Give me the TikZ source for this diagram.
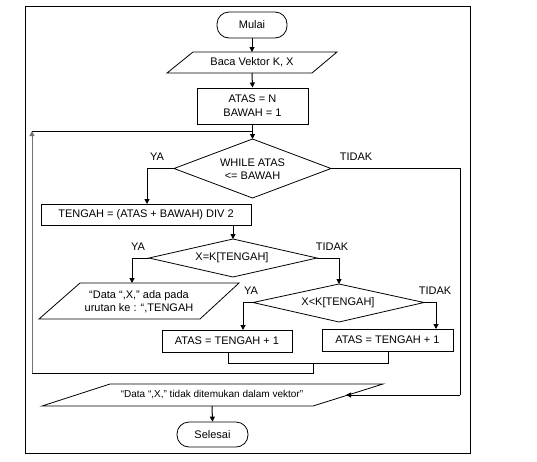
\documentclass[tikz,border=0pt]{standalone}
\usepackage{fontspec}
\setmainfont{Liberation Sans}
\usetikzlibrary{arrows.meta}
\tikzset{
  txt/.style={font=\fontsize{11}{13}\selectfont, align=center, inner sep=0pt},
  lbl/.style={font=\fontsize{11}{13}\selectfont, inner sep=0pt},
  term/.style={txt, draw, line width=0.8pt, rounded corners=12pt},
  proc/.style={txt, draw, line width=1pt, rectangle},
  shp/.style={line width=0.8pt},
  conn/.style={line width=1pt},
  arr/.style={conn, -{Triangle[length=5pt,width=5pt]}},
  grayline/.style={draw=black!55}
}
\begin{document}
\begin{tikzpicture}[x=1pt,y=-1pt]
\useasboundingbox (0,0) rectangle (537,461);
% outer frame
\draw[line width=1pt] (25,6) rectangle (470,453);

% Mulai
\node[term, minimum width=70pt, minimum height=26pt] (mulai) at (252,25) {Mulai};

% Baca Vektor
\draw[shp] (193,52) -- (337,52) -- (312,73) -- (167,73) -- cycle;
\node[txt] (baca) at (252,62.5) {Baca Vektor K, X};
\coordinate (bacaT) at (252,52);
\coordinate (bacaB) at (252,73);

% ATAS = N
\node[proc, minimum width=111pt, minimum height=36pt] (init) at (252.5,106) {ATAS = N\\[1pt]BAWAH = 1};

% WHILE diamond
\coordinate (wT) at (252.5,139);
\coordinate (wL) at (174,168.5);
\coordinate (wR) at (331,168.5);
\coordinate (wB) at (252.5,198);
\draw[shp] (wL) -- (wT) -- (wR) -- (wB) -- cycle;
\node[txt] (while) at (252.5,169.5) {WHILE ATAS\\<= BAWAH};
\node[lbl] (ya1) at (157,157) {YA};
\node[lbl] (tidak1) at (356,157) {TIDAK};

% TENGAH
\node[proc, minimum width=210pt, minimum height=21pt] (tengah) at (146,214.5) {TENGAH = (ATAS + BAWAH) DIV 2};
\coordinate (tengahT) at (147,204);
\coordinate (tengahB) at (233,225);

% X=K diamond
\coordinate (d2T) at (233,239);
\coordinate (d2L) at (149,258);
\coordinate (d2R) at (317,258);
\coordinate (d2B) at (233,277);
\draw[shp] (d2L) -- (d2T) -- (d2R) -- (d2B) -- cycle;
\node[txt] (eq) at (232,258) {X=K[TENGAH]};
\node[lbl] (ya2) at (138,247) {YA};
\node[lbl] (tidak2) at (332,247) {TIDAK};

% found output
\draw[shp] (80,283) -- (239,283) -- (200,319) -- (39,319) -- cycle;
\node[txt] (found) at (139,302) {“Data “,X,” ada pada\\urutan ke : “,TENGAH};
\coordinate (foundT) at (132,283);

% X<K diamond
\coordinate (d3T) at (339,284);
\coordinate (d3L) at (253,302.5);
\coordinate (d3R) at (424,302.5);
\coordinate (d3B) at (339,322);
\draw[shp] (d3L) -- (d3T) -- (d3R) -- (d3B) -- cycle;
\node[txt] (lt) at (338,302.5) {X<K[TENGAH]};
\node[lbl] (ya3) at (251,291) {YA};
\node[lbl] (tidak3) at (435,291) {TIDAK};

% two boxes
\node[proc, minimum width=130pt, minimum height=22pt] (boxL) at (227,341) {ATAS = TENGAH + 1};
\node[proc, minimum width=131pt, minimum height=22pt] (boxR) at (387.5,340) {ATAS = TENGAH + 1};
\coordinate (boxLT) at (243,330);
\coordinate (boxRT) at (436,329);
\coordinate (boxLB) at (228,352);
\coordinate (boxRB) at (388,351);

% not found output
\draw[shp] (110,384) -- (383,384) -- (313,406) -- (42,406) -- cycle;
\node[txt, font=\fontsize{10}{12}\selectfont] (nf) at (212,394.5) {“Data “,X,” tidak ditemukan dalam vektor”};
\coordinate (nfR) at (346,395);
\coordinate (nfB) at (212,406);

% Selesai
\node[term, minimum width=71pt, minimum height=25pt] (selesai) at (212.5,434.5) {Selesai};

% connectors
\draw[arr] (mulai.south) -- (bacaT);
\draw[arr] (bacaB) -- (init.north);
\draw[arr] (init.south) -- (wT);
\draw[arr] (wL) -| (tengahT);
\coordinate (tdk) at (460,395);
\draw[conn] (wR) -| (tdk);
\draw[arr] (tdk) -- (nfR);
\draw[arr] (tengahB) -- (d2T);
\draw[arr] (d2L) -| (foundT);
\draw[arr] (d2R) -| (d3T);
\draw[arr] (d3L) -| (boxLT);
\draw[arr] (d3R) -| (boxRT);
% merge and loop
\coordinate (mL) at (228,363);
\coordinate (mR) at (388,363);
\coordinate (mC) at (313,363);
\coordinate (loopB) at (32,373);
\coordinate (loopT) at (32,131);
\coordinate (loopJ) at (252.5,131);
\draw[conn] (boxLB) -- (mL) -- (mR) -- (boxRB);
\draw[conn] (mC) |- (loopB);
\draw[arr, grayline] (loopB) -- (loopT);
\draw[conn] (loopT) -- (loopJ);
\draw[arr] (nfB) -- (selesai.north);
\end{tikzpicture}
\end{document}
